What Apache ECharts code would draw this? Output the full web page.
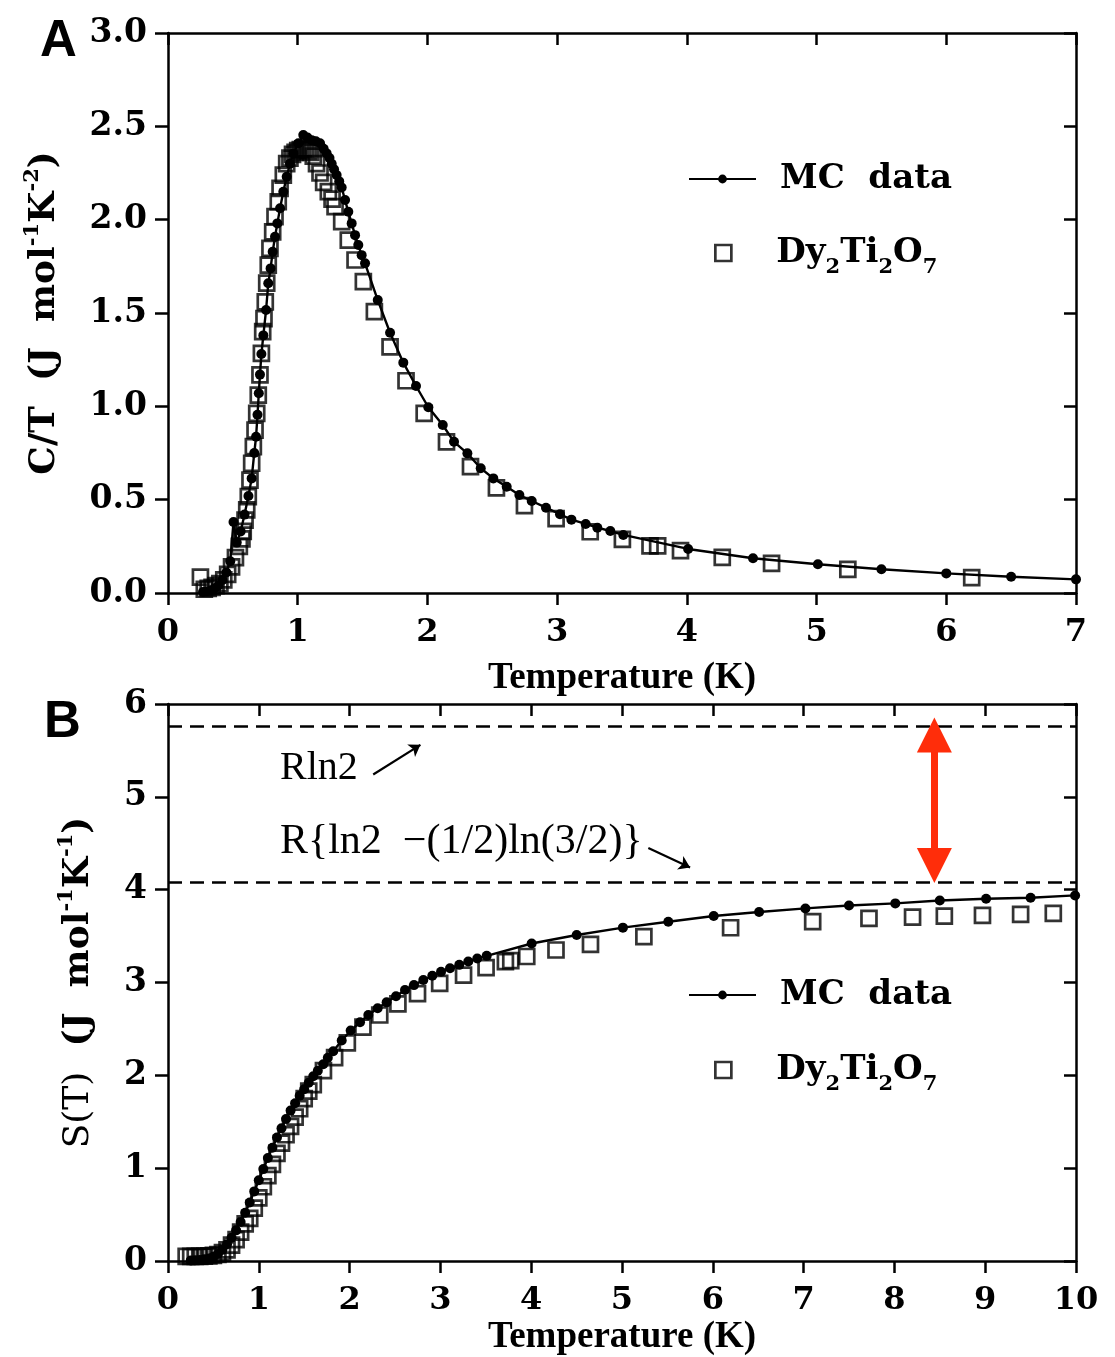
<!DOCTYPE html>
<html>
<head>
<meta charset="utf-8">
<script src="https://cdn.jsdelivr.net/npm/echarts@6/dist/echarts.min.js"></script>
<style>
html,body{margin:0;padding:0;background:#fff;}
#chart{width:1115px;height:1357px;}
</style>
</head>
<body>
<div id="chart"></div>
<script>
// ---------- Panel A : C/T vs T ----------
const mcT_A = [0.27,0.30,0.33,0.36,0.39,0.42,0.45,0.48,0.505,0.53,0.56,0.59,0.62,0.645,0.665,0.679,0.69,0.70,0.709,0.72,0.735,0.756,0.773,0.791,0.807,0.825,0.843,0.864,0.889,0.915,0.94,0.966,1.005,1.043,1.075,1.108,1.14,1.172,1.20,1.223,1.245,1.262,1.28,1.30,1.32,1.339,1.365,1.39,1.416,1.442,1.467,1.493,1.519,1.617,1.712,1.814,1.912,2.007,2.118,2.205,2.308,2.411,2.508,2.611,2.709,2.804,2.914,3.022,3.11,3.22,3.31,3.41,3.51,4.01,4.51,5.01,5.50,6.00,6.50,7.00];
const mcC_A = [0.005,0.01,0.015,0.025,0.04,0.07,0.11,0.17,0.38,0.27,0.33,0.42,0.52,0.614,0.75,0.837,0.955,1.07,1.17,1.28,1.38,1.516,1.659,1.739,1.828,1.908,1.98,2.061,2.149,2.23,2.30,2.355,2.409,2.453,2.44,2.426,2.42,2.409,2.38,2.355,2.33,2.30,2.27,2.239,2.205,2.172,2.105,2.042,1.98,1.917,1.864,1.81,1.766,1.569,1.394,1.234,1.109,0.995,0.90,0.81,0.748,0.668,0.614,0.569,0.525,0.493,0.457,0.422,0.393,0.37,0.35,0.332,0.311,0.236,0.186,0.154,0.127,0.105,0.087,0.073];
const dyT_A = [0.25,0.28,0.31,0.34,0.37,0.40,0.43,0.46,0.49,0.52,0.55,0.57,0.58,0.594,0.607,0.619,0.632,0.645,0.658,0.671,0.684,0.696,0.709,0.72,0.73,0.74,0.75,0.761,0.773,0.786,0.807,0.825,0.85,0.864,0.889,0.915,0.94,0.96,0.98,1.00,1.02,1.04,1.06,1.08,1.10,1.12,1.145,1.172,1.20,1.236,1.265,1.288,1.339,1.39,1.442,1.506,1.591,1.712,1.835,1.975,2.147,2.332,2.532,2.748,2.992,3.255,3.503,3.716,3.775,3.951,4.273,4.653,5.241,6.196];
const dyC_A = [0.085,0.02,0.025,0.03,0.04,0.05,0.07,0.10,0.14,0.19,0.25,0.29,0.33,0.39,0.445,0.516,0.605,0.695,0.784,0.873,0.962,1.06,1.168,1.284,1.40,1.47,1.56,1.66,1.757,1.846,1.935,2.016,2.096,2.168,2.239,2.30,2.33,2.35,2.36,2.37,2.375,2.38,2.38,2.37,2.36,2.34,2.30,2.25,2.20,2.15,2.11,2.07,1.99,1.89,1.784,1.668,1.507,1.319,1.137,0.962,0.81,0.677,0.563,0.468,0.398,0.328,0.287,0.252,0.252,0.227,0.191,0.159,0.127,0.082];

// ---------- Panel B : S(T) vs T ----------
const mcT_B = [0.25,0.30,0.35,0.40,0.45,0.50,0.55,0.60,0.65,0.70,0.75,0.80,0.85,0.90,0.95,1.00,1.05,1.10,1.15,1.20,1.25,1.30,1.35,1.40,1.45,1.50,1.55,1.60,1.65,1.71,1.76,1.82,1.913,2.012,2.115,2.206,2.309,2.408,2.511,2.61,2.709,2.812,2.911,3.007,3.106,3.208,3.307,3.406,3.51,4.005,4.501,5.01,5.51,6.01,6.51,7.02,7.50,8.01,8.50,9.01,9.50,9.99];
const mcS_B = [0.005,0.008,0.012,0.018,0.027,0.045,0.075,0.12,0.18,0.25,0.33,0.42,0.52,0.63,0.75,0.87,0.99,1.11,1.22,1.33,1.43,1.53,1.62,1.70,1.78,1.85,1.92,1.99,2.05,2.12,2.19,2.26,2.375,2.482,2.572,2.65,2.722,2.786,2.851,2.92,2.972,3.026,3.072,3.115,3.154,3.19,3.226,3.259,3.287,3.42,3.512,3.591,3.655,3.716,3.759,3.798,3.83,3.852,3.884,3.902,3.913,3.938];
const dyT_B = [0.20,0.25,0.30,0.35,0.40,0.45,0.50,0.55,0.60,0.65,0.70,0.75,0.80,0.85,0.90,0.95,1.00,1.05,1.10,1.15,1.20,1.25,1.30,1.35,1.40,1.45,1.50,1.55,1.60,1.712,1.835,1.975,2.147,2.332,2.532,2.748,2.992,3.255,3.503,3.716,3.775,3.951,4.273,4.653,5.241,6.196,7.10,7.72,8.20,8.55,8.97,9.39,9.75];
const dyS_B = [0.05,0.05,0.05,0.05,0.052,0.055,0.06,0.07,0.09,0.12,0.17,0.23,0.31,0.40,0.46,0.57,0.68,0.80,0.92,1.04,1.16,1.27,1.36,1.45,1.55,1.64,1.75,1.83,1.90,2.05,2.19,2.35,2.52,2.65,2.77,2.88,2.99,3.08,3.16,3.225,3.235,3.28,3.35,3.41,3.495,3.59,3.655,3.69,3.705,3.715,3.723,3.734,3.745];

// reference entropy levels
const R = 8.314;
const RLN2 = R * Math.log(2);                                  // 5.763
const RPAULING = R * (Math.log(2) - 0.5 * Math.log(1.5));       // 4.077

// tick labels
const xTicksA = [0,1,2,3,4,5,6,7];
const xTicksB = [0,1,2,3,4,5,6,7,8,9,10];

const pair = (xs, ys) => xs.map((x, i) => [x, ys[i]]);

const SERIF = '"DejaVu Serif", serif';
const TIMES = '"Liberation Serif", "Times New Roman", serif';
const BLACK = '#000';
const RED = '#ff2d0a';
const AXW = 2.5;

function xAxisMain(grid, max, gap) {
  return {
    type: 'value', gridIndex: grid, position: 'bottom', min: 0, max: max, interval: 1,
    name: 'Temperature (K)', nameLocation: 'middle', nameGap: gap,
    nameTextStyle: {fontFamily: TIMES, fontWeight: 'bold', fontSize: 37, color: BLACK},
    axisLine: {show: true, onZero: false, lineStyle: {color: BLACK, width: AXW}},
    axisTick: {show: true, inside: false, length: 12, lineStyle: {color: BLACK, width: AXW}},
    axisLabel: {show: true, margin: 24, fontFamily: SERIF, fontWeight: 'bold', fontSize: 32, color: BLACK},
    splitLine: {show: false}
  };
}
function xAxisMirror(grid, max) {
  return {
    type: 'value', gridIndex: grid, position: 'top', min: 0, max: max, interval: 1,
    axisLine: {show: true, onZero: false, lineStyle: {color: BLACK, width: AXW}},
    axisTick: {show: true, inside: true, length: 12, lineStyle: {color: BLACK, width: AXW}},
    axisLabel: {show: false}, splitLine: {show: false}
  };
}
function yAxisMain(grid, max, interval, digits, nameStr, gap) {
  return {
    type: 'value', gridIndex: grid, position: 'left', min: 0, max: max, interval: interval,
    name: nameStr, nameLocation: 'middle', nameGap: gap, nameRotate: 90,
    nameTextStyle: {
      fontFamily: SERIF, fontWeight: 'bold', fontSize: 36, color: BLACK,
      rich: {
        n: {fontFamily: SERIF, fontWeight: 'bold', fontSize: 36, lineHeight: 46, verticalAlign: 'middle', color: BLACK},
        r: {fontFamily: SERIF, fontWeight: 'normal', fontSize: 36, lineHeight: 46, verticalAlign: 'middle', color: BLACK},
        sup: {fontFamily: SERIF, fontWeight: 'bold', fontSize: 21, lineHeight: 21, verticalAlign: 'top', color: BLACK}
      }
    },
    axisLine: {show: true, onZero: false, lineStyle: {color: BLACK, width: AXW}},
    axisTick: {show: true, inside: false, length: 13, lineStyle: {color: BLACK, width: AXW}},
    axisLabel: {show: true, margin: 21, fontFamily: SERIF, fontWeight: 'bold', fontSize: 33, color: BLACK,
                formatter: v => v.toFixed(digits)},
    splitLine: {show: false}
  };
}
function yAxisMirror(grid, max, interval) {
  return {
    type: 'value', gridIndex: grid, position: 'right', min: 0, max: max, interval: interval,
    axisLine: {show: true, onZero: false, lineStyle: {color: BLACK, width: AXW}},
    axisTick: {show: true, inside: true, length: 12, lineStyle: {color: BLACK, width: AXW}},
    axisLabel: {show: false}, splitLine: {show: false}
  };
}

const squareStyle = {color: 'rgba(0,0,0,0)', borderColor: BLACK, borderWidth: 2.7};

function mcSeries(xi, yi, data, extra) {
  return Object.assign({
    name: 'MC data', type: 'line', xAxisIndex: xi, yAxisIndex: yi, data: data,
    symbol: 'circle', symbolSize: 10, showSymbol: true, showAllSymbol: true,
    itemStyle: {color: BLACK}, lineStyle: {color: BLACK, width: 2.4},
    z: 4, silent: true, animation: false
  }, extra || {});
}
function dySeries(xi, yi, data) {
  return {
    name: 'Dy2Ti2O7', type: 'scatter', xAxisIndex: xi, yAxisIndex: yi, data: data,
    symbol: 'rect', symbolSize: 15, itemStyle: squareStyle, z: 3, silent: true, animation: false
  };
}

const legendMCText = {fontFamily: SERIF, fontWeight: 'bold', fontSize: 34, color: BLACK, lineHeight: 44, padding: [0,0,0,19]};
const legendDyText = {
  fontFamily: SERIF, fontWeight: 'bold', fontSize: 34, color: BLACK, padding: [0,0,0,40],
  rich: {
    n: {fontFamily: SERIF, fontWeight: 'bold', fontSize: 34, lineHeight: 50, verticalAlign: 'middle', color: BLACK},
    s: {fontFamily: SERIF, fontWeight: 'bold', fontSize: 21, lineHeight: 16, verticalAlign: 'bottom', color: BLACK}
  }
};
function legendMC(top) {
  return {data: ['MC data'], left: 688, top: top, orient: 'vertical', padding: 0, selectedMode: false,
          itemWidth: 67, itemHeight: 11, textStyle: legendMCText,
          formatter: () => 'MC  data'};
}
function legendDy(top) {
  return {data: [{name: 'Dy2Ti2O7', icon: 'rect'}], left: 714, top: top, orient: 'vertical', padding: 0, selectedMode: false,
          itemWidth: 16, itemHeight: 16, textStyle: legendDyText,
          itemStyle: {color: 'rgba(0,0,0,0)', borderColor: BLACK, borderWidth: 2.7},
          formatter: () => '{n|Dy}{s|2}{n|Ti}{s|2}{n|O}{s|7}'};
}

const dashed = {type: [14, 8], color: BLACK, width: 2.6};

const option = {
  animation: false,
  backgroundColor: '#fff',
  grid: [
    {left: 168, top: 33, width: 908, height: 560, containLabel: false},
    {left: 168, top: 704, width: 908, height: 559, containLabel: false}
  ],
  xAxis: [xAxisMain(0, 7, 67), xAxisMirror(0, 7), xAxisMain(1, 10, 58), xAxisMirror(1, 10)],
  yAxis: [
    yAxisMain(0, 3, 0.5, 1, '{n|C/T  (J  mol}{sup|-1}{n|K}{sup|-2}{n|)}', 100),
    yAxisMirror(0, 3, 0.5),
    yAxisMain(1, 6, 1, 0, '{r|S(T)}{n|  (J  mol}{sup|-1}{n|K}{sup|-1}{n|)}', 66),
    yAxisMirror(1, 6, 1)
  ],
  legend: [legendMC(157), legendDy(236), legendMC(973), legendDy(1053)],
  series: [
    dySeries(0, 0, pair(dyT_A, dyC_A)),
    mcSeries(0, 0, pair(mcT_A, mcC_A)),
    dySeries(2, 2, pair(dyT_B, dyS_B)),
    mcSeries(2, 2, pair(mcT_B, mcS_B), {
      markLine: {
        silent: true, animation: false, symbol: ['none', 'none'], label: {show: false},
        emphasis: {disabled: true},
        data: [
          {yAxis: RLN2, lineStyle: dashed},
          {yAxis: RPAULING, lineStyle: dashed},
          [{coord: [8.44, 4.26], symbol: 'triangle', symbolSize: 35},
           {coord: [8.44, 5.665], symbol: 'triangle', symbolSize: 35, lineStyle: {color: RED, width: 7, type: 'solid'}, itemStyle: {color: RED}}],
          [{coord: [2.26, 5.24], symbol: 'none'},
           {coord: [2.78, 5.56], symbol: 'arrow', symbolSize: 11, lineStyle: {color: BLACK, width: 2.2, type: 'solid'}}],
          [{coord: [5.29, 4.45], symbol: 'none'},
           {coord: [5.75, 4.24], symbol: 'arrow', symbolSize: 11, lineStyle: {color: BLACK, width: 2.2, type: 'solid'}}]
        ]
      }
    })
  ],
  graphic: [
    {type: 'text', left: 40, top: 16, style: {text: 'A', font: 'bold 51px "Liberation Sans", Arial, sans-serif', fill: BLACK}},
    {type: 'text', left: 44, top: 697, style: {text: 'B', font: 'bold 51px "Liberation Sans", Arial, sans-serif', fill: BLACK}},
    {type: 'text', left: 280, top: 748, style: {text: 'Rln2', font: '40px "Liberation Serif", serif', fill: BLACK}},
    {type: 'text', left: 280, top: 821, style: {text: 'R{ln2  \u2212(1/2)ln(3/2)}', font: '42px "Liberation Serif", serif', fill: BLACK}}
  ]
};

const chart = echarts.init(document.getElementById('chart'), null, {renderer: 'canvas'});
chart.setOption(option);
</script>
</body>
</html>
